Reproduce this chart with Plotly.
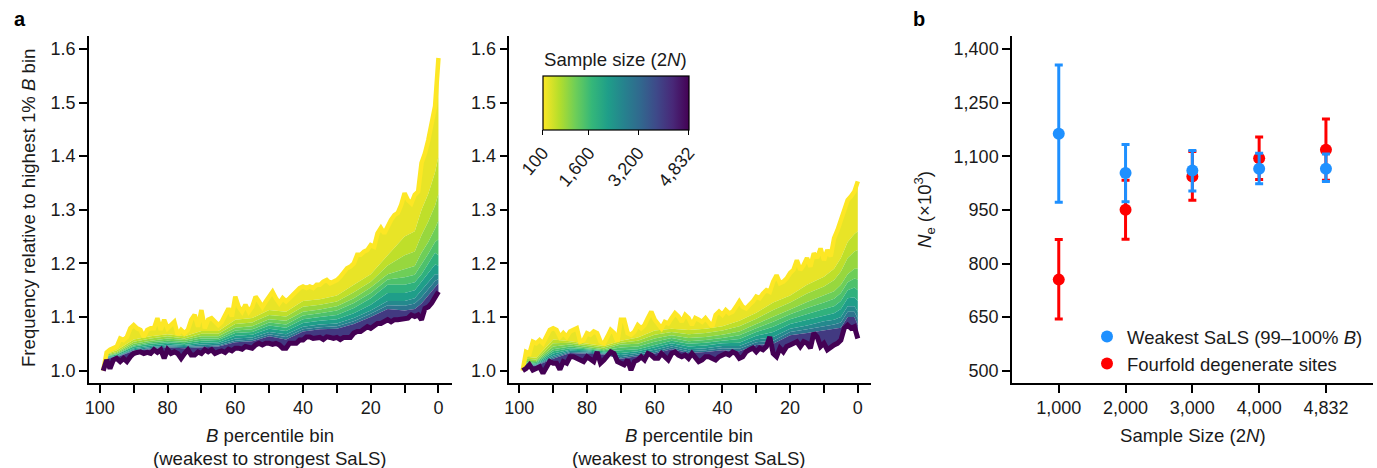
import plotly.graph_objects as go

W, H = 1377, 468

# ---------------- data ----------------
# B percentile bins (x) for the extreme curves, 99 -> 0
pct = list(range(99, -1, -1))
# coarse bins for intermediate sample sizes
pct_coarse = [99, 98, 95, 90, 85, 80, 75, 70, 65, 60, 55, 50, 45, 40, 35, 30, 25, 20, 15, 10, 7, 5, 3, 1, 0]

# sample sizes of the drawn curves (top to bottom)
sizes = [100, 400, 700, 1000, 1300, 1600, 2000, 2400, 2800, 3200, 4832]

# Left panel: sample size 100 (top) and 4,832 (bottom)
left_n100 = [1.000, 1.034, 1.039, 1.042, 1.045, 1.060, 1.057, 1.063, 1.079, 1.085,
             1.079, 1.076, 1.063, 1.076, 1.079, 1.079, 1.098, 1.076, 1.095, 1.079,
             1.085, 1.091, 1.067, 1.076, 1.070, 1.076, 1.095, 1.104, 1.082, 1.113,
             1.079, 1.095, 1.098, 1.091, 1.085, 1.091, 1.104, 1.116, 1.101, 1.138,
             1.119, 1.110, 1.123, 1.110, 1.119, 1.138, 1.129, 1.119, 1.129, 1.138,
             1.147, 1.135, 1.126, 1.135, 1.129, 1.135, 1.141, 1.147, 1.154, 1.157,
             1.154, 1.157, 1.154, 1.160, 1.160, 1.166, 1.169, 1.163, 1.166, 1.169,
             1.175, 1.182, 1.191, 1.194, 1.200, 1.216, 1.216, 1.222, 1.225, 1.234,
             1.231, 1.256, 1.266, 1.256, 1.269, 1.281, 1.290, 1.294, 1.309, 1.331,
             1.318, 1.312, 1.328, 1.334, 1.387, 1.405, 1.430, 1.461, 1.493, 1.583]
left_n4832 = [1.000, 1.020, 1.004, 1.020, 1.023, 1.017, 1.023, 1.017, 1.026, 1.032,
              1.034, 1.035, 1.032, 1.034, 1.032, 1.039, 1.034, 1.039, 1.023, 1.039,
              1.032, 1.035, 1.032, 1.023, 1.032, 1.039, 1.029, 1.029, 1.035, 1.032,
              1.039, 1.035, 1.039, 1.032, 1.035, 1.037, 1.034, 1.040, 1.037, 1.042,
              1.042, 1.040, 1.045, 1.044, 1.042, 1.048, 1.051, 1.048, 1.051, 1.051,
              1.049, 1.051, 1.048, 1.042, 1.042, 1.051, 1.052, 1.051, 1.057, 1.057,
              1.063, 1.063, 1.060, 1.062, 1.062, 1.058, 1.063, 1.062, 1.060, 1.062,
              1.058, 1.062, 1.063, 1.062, 1.070, 1.073, 1.073, 1.079, 1.082, 1.079,
              1.085, 1.088, 1.088, 1.091, 1.095, 1.091, 1.095, 1.095, 1.096, 1.096,
              1.098, 1.104, 1.101, 1.104, 1.095, 1.116, 1.119, 1.126, 1.135, 1.147]
left_n400 = [1.0, 1.031, 1.038, 1.058, 1.064, 1.068, 1.064, 1.074, 1.074, 1.095, 1.098, 1.113, 1.110,
             1.130, 1.133, 1.140, 1.160, 1.180, 1.215, 1.250, 1.260, 1.300, 1.330, 1.370, 1.400]
left_n700 = [1.0, 1.030, 1.035, 1.054, 1.060, 1.064, 1.060, 1.069, 1.069, 1.087, 1.090, 1.104, 1.101,
             1.119, 1.123, 1.129, 1.146, 1.166, 1.196, 1.215, 1.222, 1.253, 1.278, 1.308, 1.330]
left_n1000 = [1.0, 1.028, 1.033, 1.050, 1.056, 1.060, 1.057, 1.064, 1.064, 1.080, 1.083, 1.096, 1.093,
              1.110, 1.114, 1.120, 1.135, 1.155, 1.180, 1.190, 1.195, 1.220, 1.240, 1.265, 1.280]
left_n1300 = [1.0, 1.027, 1.031, 1.047, 1.053, 1.056, 1.054, 1.060, 1.060, 1.075, 1.077, 1.090, 1.086,
              1.103, 1.107, 1.112, 1.126, 1.145, 1.170, 1.174, 1.179, 1.198, 1.218, 1.240, 1.245]
left_n1600 = [1.0, 1.026, 1.030, 1.045, 1.050, 1.053, 1.051, 1.056, 1.057, 1.070, 1.072, 1.084, 1.080,
              1.096, 1.100, 1.104, 1.117, 1.135, 1.160, 1.160, 1.165, 1.180, 1.200, 1.220, 1.215]
left_n2000 = [1.0, 1.025, 1.028, 1.042, 1.047, 1.050, 1.048, 1.052, 1.053, 1.065, 1.067, 1.078, 1.074,
              1.089, 1.093, 1.096, 1.107, 1.123, 1.145, 1.145, 1.150, 1.165, 1.182, 1.198, 1.196]
left_n2400 = [1.0, 1.024, 1.027, 1.040, 1.044, 1.047, 1.046, 1.049, 1.050, 1.060, 1.062, 1.072, 1.068,
              1.082, 1.086, 1.088, 1.098, 1.112, 1.130, 1.130, 1.135, 1.150, 1.165, 1.180, 1.180]
left_n2800 = [1.0, 1.023, 1.026, 1.038, 1.042, 1.045, 1.044, 1.046, 1.047, 1.056, 1.058, 1.068, 1.063,
              1.077, 1.081, 1.083, 1.092, 1.106, 1.122, 1.121, 1.125, 1.137, 1.152, 1.167, 1.171]
left_n3200 = [1.0, 1.022, 1.025, 1.037, 1.040, 1.043, 1.042, 1.044, 1.045, 1.053, 1.055, 1.064, 1.058,
              1.073, 1.077, 1.078, 1.087, 1.100, 1.115, 1.112, 1.115, 1.125, 1.140, 1.155, 1.163]

# Right panel
right_n100 = [1.000, 1.035, 1.032, 1.054, 1.051, 1.057, 1.051, 1.063, 1.076, 1.079,
              1.076, 1.063, 1.070, 1.063, 1.073, 1.076, 1.079, 1.054, 1.057, 1.070,
              1.067, 1.073, 1.070, 1.054, 1.051, 1.063, 1.076, 1.070, 1.054, 1.095,
              1.095, 1.070, 1.067, 1.073, 1.085, 1.079, 1.085, 1.098, 1.110, 1.095,
              1.088, 1.079, 1.091, 1.088, 1.098, 1.107, 1.101, 1.091, 1.104, 1.098,
              1.085, 1.098, 1.095, 1.091, 1.098, 1.091, 1.082, 1.104, 1.110, 1.104,
              1.113, 1.107, 1.110, 1.119, 1.129, 1.119, 1.116, 1.123, 1.129, 1.138,
              1.135, 1.144, 1.150, 1.147, 1.166, 1.178, 1.163, 1.166, 1.172, 1.182,
              1.188, 1.206, 1.188, 1.197, 1.210, 1.194, 1.219, 1.210, 1.228, 1.206,
              1.225, 1.213, 1.247, 1.262, 1.281, 1.303, 1.318, 1.325, 1.334, 1.353]
right_n4832 = [1.000, 1.004, 1.011, 1.001, 1.004, 1.007, 0.995, 1.007, 1.017, 1.014,
               1.014, 1.002, 1.017, 1.014, 1.026, 1.026, 1.023, 1.020, 1.017, 1.026,
               1.020, 1.017, 1.035, 1.014, 1.020, 1.029, 1.035, 1.032, 1.017, 1.014,
               1.011, 1.020, 1.001, 1.017, 1.020, 1.026, 1.020, 1.032, 1.029, 1.023,
               1.023, 1.032, 1.026, 1.020, 1.032, 1.035, 1.029, 1.026, 1.029, 1.023,
               1.032, 1.023, 1.017, 1.020, 1.026, 1.026, 1.023, 1.020, 1.026, 1.029,
               1.032, 1.029, 1.035, 1.032, 1.023, 1.026, 1.035, 1.039, 1.042, 1.035,
               1.042, 1.039, 1.045, 1.063, 1.032, 1.026, 1.042, 1.035, 1.045, 1.048,
               1.051, 1.054, 1.045, 1.054, 1.051, 1.042, 1.070, 1.063, 1.045, 1.051,
               1.039, 1.045, 1.048, 1.051, 1.057, 1.079, 1.085, 1.079, 1.082, 1.060]
right_n400 = [1.0, 1.026, 1.024, 1.058, 1.055, 1.050, 1.046, 1.056, 1.062, 1.075, 1.078, 1.076, 1.078,
              1.083, 1.093, 1.108, 1.127, 1.140, 1.160, 1.175, 1.190, 1.210, 1.240, 1.255, 1.260]
right_n700 = [1.0, 1.022, 1.021, 1.051, 1.052, 1.047, 1.043, 1.052, 1.056, 1.067, 1.072, 1.068, 1.070,
              1.075, 1.083, 1.097, 1.113, 1.127, 1.144, 1.157, 1.169, 1.185, 1.210, 1.222, 1.225]
right_n1000 = [1.0, 1.018, 1.018, 1.045, 1.049, 1.045, 1.040, 1.049, 1.050, 1.060, 1.066, 1.061, 1.063,
               1.067, 1.073, 1.087, 1.100, 1.114, 1.128, 1.140, 1.148, 1.160, 1.180, 1.190, 1.190]
right_n1300 = [1.0, 1.015, 1.016, 1.040, 1.045, 1.042, 1.038, 1.043, 1.045, 1.054, 1.061, 1.055, 1.057,
               1.061, 1.066, 1.079, 1.091, 1.105, 1.117, 1.127, 1.134, 1.145, 1.165, 1.172, 1.170]
right_n1600 = [1.0, 1.013, 1.014, 1.036, 1.042, 1.040, 1.036, 1.038, 1.040, 1.048, 1.056, 1.050, 1.052,
               1.056, 1.059, 1.072, 1.082, 1.096, 1.106, 1.115, 1.120, 1.130, 1.150, 1.155, 1.150]
right_n2000 = [1.0, 1.011, 1.012, 1.032, 1.039, 1.038, 1.034, 1.033, 1.036, 1.043, 1.051, 1.045, 1.047,
               1.051, 1.052, 1.065, 1.072, 1.087, 1.095, 1.103, 1.107, 1.115, 1.135, 1.137, 1.130]
right_n2400 = [1.0, 1.010, 1.011, 1.028, 1.037, 1.036, 1.032, 1.029, 1.033, 1.039, 1.047, 1.040, 1.042,
               1.046, 1.046, 1.058, 1.063, 1.078, 1.084, 1.092, 1.095, 1.100, 1.120, 1.120, 1.110]
right_n2800 = [1.0, 1.009, 1.010, 1.025, 1.035, 1.034, 1.031, 1.025, 1.030, 1.035, 1.043, 1.036, 1.038,
               1.042, 1.041, 1.053, 1.056, 1.072, 1.077, 1.083, 1.086, 1.090, 1.110, 1.110, 1.097]
right_n3200 = [1.0, 1.008, 1.009, 1.022, 1.033, 1.032, 1.030, 1.022, 1.027, 1.032, 1.040, 1.033, 1.035,
               1.038, 1.036, 1.048, 1.050, 1.066, 1.070, 1.075, 1.077, 1.080, 1.100, 1.100, 1.085]

# colour-bar ticks
cbar_vals = [100, 1600, 3200, 4832]
cbar_text = ['100', '1,600', '3,200', '4,832']

# Panel b
sample_labels = ['1,000', '2,000', '3,000', '4,000', '4,832']
weak_ne = [1163, 1053, 1060, 1065, 1065]
weak_hi = [1355, 1133, 1116, 1108, 1106]
weak_lo = [971, 973, 1003, 1023, 1029]
four_ne = [755, 950, 1043, 1094, 1118]
four_hi = [867, 1033, 1113, 1154, 1204]
four_lo = [645, 868, 977, 1035, 1033]

# ---------------- styling ----------------
FONT = 'Liberation Sans, Arial, Helvetica, sans-serif'
TXT = '#1a1a1a'
FS = 18
FT = 18.6
# viridis (reversed) colour at the middle of each gap between neighbouring curves
band_colors = ['rgb(232,228,39)', 'rgb(191,223,42)', 'rgb(151,215,62)', 'rgb(110,206,88)',
               'rgb(78,193,107)', 'rgb(48,177,125)', 'rgb(31,158,137)', 'rgb(36,137,141)',
               'rgb(44,117,142)', 'rgb(66,58,129)']
TOP_COL = '#fde725'
BOT_COL = '#440154'
BLUE = '#1e90ff'
RED = '#ff0000'

fig = go.Figure()


def add_panel(xa, ya, top, mids, bottom):
    fig.add_trace(go.Scatter(x=pct, y=top, xaxis=xa, yaxis=ya, mode='lines',
                             line=dict(width=0, color=TOP_COL), showlegend=False,
                             hoverinfo='skip'))
    series = [(pct_coarse, m) for m in mids] + [(pct, bottom)]
    for (xs, ys), col in zip(series, band_colors):
        fig.add_trace(go.Scatter(x=xs, y=ys, xaxis=xa, yaxis=ya, mode='lines',
                                 line=dict(width=0, color=col), fill='tonexty',
                                 fillcolor=col, showlegend=False, hoverinfo='skip'))
    fig.add_trace(go.Scatter(x=pct, y=top, xaxis=xa, yaxis=ya, mode='lines',
                             line=dict(width=4.5, color=TOP_COL), showlegend=False))
    fig.add_trace(go.Scatter(x=pct, y=bottom, xaxis=xa, yaxis=ya, mode='lines',
                             line=dict(width=5, color=BOT_COL), showlegend=False))


add_panel('x', 'y', left_n100,
          [left_n400, left_n700, left_n1000, left_n1300, left_n1600, left_n2000,
           left_n2400, left_n2800, left_n3200], left_n4832)
add_panel('x2', 'y2', right_n100,
          [right_n400, right_n700, right_n1000, right_n1300, right_n1600, right_n2000,
           right_n2400, right_n2800, right_n3200], right_n4832)

# colour bar (dummy trace)
fig.add_trace(go.Scatter(
    x=[None, None], y=[None, None], xaxis='x2', yaxis='y2', mode='markers',
    showlegend=False, hoverinfo='skip',
    marker=dict(color=[cbar_vals[0], cbar_vals[-1]], colorscale='Viridis', reversescale=True,
                cmin=cbar_vals[0], cmax=cbar_vals[-1], showscale=True,
                colorbar=dict(orientation='h', x=615.5 / W, xanchor='center',
                              y=1 - 75.7 / H, yanchor='top', len=146.4, lenmode='pixels',
                              thickness=53.6, thicknessmode='pixels', xpad=0, ypad=0,
                              outlinewidth=1.2, outlinecolor='black',
                              ticks='outside', ticklen=5, tickwidth=1.2, tickcolor='black',
                              tickvals=cbar_vals, ticktext=cbar_text, tickangle=-50,
                              tickfont=dict(size=FS, family=FONT, color=TXT)))))

# panel b
xs_b = [1, 2, 3, 4, 5]
fig.add_trace(go.Scatter(
    x=xs_b, y=four_ne, xaxis='x3', yaxis='y3', mode='markers', name='Fourfold degenerate sites',
    legendrank=2, marker=dict(size=12, color=RED),
    error_y=dict(type='data', symmetric=False,
                 array=[h - c for h, c in zip(four_hi, four_ne)],
                 arrayminus=[c - l for l, c in zip(four_lo, four_ne)],
                 color=RED, thickness=3, width=4)))
fig.add_trace(go.Scatter(
    x=xs_b, y=weak_ne, xaxis='x3', yaxis='y3', mode='markers',
    name='Weakest SaLS (99\u2013100% <i>B</i>)',
    legendrank=1, marker=dict(size=12, color=BLUE),
    error_y=dict(type='data', symmetric=False,
                 array=[h - c for h, c in zip(weak_hi, weak_ne)],
                 arrayminus=[c - l for l, c in zip(weak_lo, weak_ne)],
                 color=BLUE, thickness=3, width=4)))

axis_common = dict(showline=True, linecolor='black', linewidth=1.5, ticks='outside',
                   ticklen=8, tickwidth=1.5, tickcolor='black', showgrid=False,
                   zeroline=False, tickfont=dict(size=FS, family=FONT, color=TXT),
                   automargin=False)

pvals = [100, 80, 60, 40, 20, 0]
pminor = dict(tickvals=[90, 70, 50, 30, 10], ticks='outside', ticklen=8, tickwidth=1.5,
              tickcolor='black', showgrid=False)
yvals_a = [1.0, 1.1, 1.2, 1.3, 1.4, 1.5, 1.6]
yd = [1 - 383 / H, 1 - 36 / H]

fig.update_layout(
    width=W, height=H, margin=dict(l=0, r=0, t=0, b=0),
    paper_bgcolor='white', plot_bgcolor='white',
    font=dict(family=FONT, size=FS, color=TXT),
    xaxis=dict(domain=[89 / W, 452 / W], range=[103.2, -4.0], tickvals=pvals, minor=pminor,
               anchor='y', **axis_common),
    yaxis=dict(domain=yd, range=[0.977, 1.624], tickvals=yvals_a, tickformat='.1f',
               anchor='x', **axis_common),
    xaxis2=dict(domain=[509.3 / W, 871 / W], range=[102.95, -3.9], tickvals=pvals, minor=pminor,
                anchor='y2', **axis_common),
    yaxis2=dict(domain=yd, range=[0.977, 1.624], tickvals=yvals_a, tickformat='.1f',
                anchor='x2', **axis_common),
    xaxis3=dict(domain=[1012 / W, 1372.7 / W], range=[0.3, 5.7], tickvals=xs_b,
                ticktext=sample_labels, anchor='y3', **axis_common),
    yaxis3=dict(domain=yd, range=[466, 1436], tickvals=[500, 650, 800, 950, 1100, 1250, 1400],
                tickformat=',d', anchor='x3', **axis_common),
    legend=dict(x=1087 / W, xanchor='left', y=1 - 318 / H, yanchor='top',
                traceorder='normal',
                bgcolor='rgba(0,0,0,0)', font=dict(size=18.5, family=FONT, color=TXT),
                tracegroupgap=0),
    showlegend=True,
)


def ann(text, x, y, size=FT, angle=0, bold=False, xanchor='center'):
    fig.add_annotation(text=('<b>%s</b>' % text) if bold else text, x=x / W, y=1 - y / H,
                       xref='paper', yref='paper', showarrow=False, textangle=angle,
                       xanchor=xanchor, yanchor='middle',
                       font=dict(size=size, family=FONT, color='black' if bold else TXT))


ann('a', 12, 19, size=20, bold=True, xanchor='left')
ann('b', 911, 19, size=20, bold=True, xanchor='left')
ann('Frequency relative to highest 1% <i>B</i> bin', 28, 208, angle=-90)
ann('<i>B</i> percentile bin', 270, 435)
ann('(weakest to strongest SaLS)', 270, 458)
ann('<i>B</i> percentile bin', 689, 435)
ann('(weakest to strongest SaLS)', 689, 458)
ann('Sample size (2<i>N</i>)', 615, 59)
ann('<i>N</i><sub>e</sub> (\u00d710<sup>3</sup>)', 925, 210, angle=-90)
ann('Sample Size (2<i>N</i>)', 1192.5, 435)

fig.write_html('out.html', config={'displayModeBar': False},
               post_script="document.body.style.margin='0';document.body.style.padding='0';")
